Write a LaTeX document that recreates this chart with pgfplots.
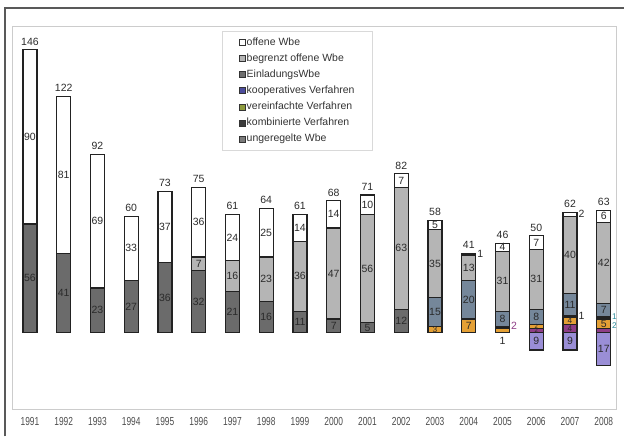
\documentclass[border=0pt]{standalone}
\usepackage{fontspec}
\setmainfont{Liberation Sans}
\usepackage{pgfplots}
\usepackage{pgfplotstable}
\pgfplotsset{compat=1.18}

\definecolor{cW}{HTML}{FFFFFF}
\definecolor{cB}{HTML}{B5B5B5}
\definecolor{cE}{HTML}{6B6B6B}
\definecolor{cS}{HTML}{75879A}
\definecolor{cK}{HTML}{1E1E1E}
\definecolor{cO}{HTML}{E4A035}
\definecolor{cP}{HTML}{8E3D86}
\definecolor{cU}{HTML}{9A8ED6}
\definecolor{barline}{HTML}{222222}
\definecolor{labtext}{HTML}{2A2A2A}
\definecolor{teallab}{HTML}{2A8A9A}
\definecolor{lgE}{HTML}{6E6E6E}
\definecolor{lgKoop}{HTML}{4C4C9C}
\definecolor{lgVer}{HTML}{8D9A3C}
\definecolor{lgKomb}{HTML}{3C3C3C}
\definecolor{lgU}{HTML}{7A7A7A}

\newcommand\lab{\fontsize{6.3}{7}\selectfont}
\newcommand\slab{\fontsize{5}{6}\selectfont}
\newcommand\tlab{\fontsize{3.6}{4}\selectfont}

% stacked positive segments, bottom to top
\pgfplotstableread{
x  P O K E  S  B  W
0  0 0 0 56 0  0  90
1  0 0 0 41 0  0  81
2  0 0 0 23 0  0  69
3  0 0 0 27 0  0  33
4  0 0 0 36 0  0  37
5  0 0 0 32 0  7  36
6  0 0 0 21 0  16 24
7  0 0 0 16 0  23 25
8  0 0 0 11 0  36 14
9  0 0 0 7  0  47 14
10 0 0 0 5  0  56 10
11 0 0 0 12 0  63 7
12 0 3 0 0  15 35 5
13 0 7 0 0  20 13 1
14 0 2 1 0  8  31 4
15 2 2 0 0  8  31 7
16 4 4 1 0  11 40 2
17 2 5 1 0  7  42 6
}\bars

% ungeregelte Wbe below the baseline
\pgfplotstableread{
x  U
15 -9
16 -9
17 -17
}\negbars

\pgfplotstableread{
x  y     lab
0  101   90
0  28    56
1  81.5  81
1  20.5  41
2  57.5  69
2  11.5  23
3  43.5  33
3  13.5  27
4  54.5  37
4  18    36
5  57    36
5  35.5  7
5  16    32
6  49    24
6  29    16
6  10.5  21
7  51.5  25
7  27.5  23
7  8     16
8  54    14
8  29    36
8  5.5   11
9  61    14
9  30.5  47
9  3.5   7
10 66    10
10 33    56
10 2.5   5
11 78.5  7
11 43.5  63
11 6     12
12 55.5  5
12 35.5  35
12 10.5  15
13 33.5  13
13 17    20
13 3.5   7
14 44    4
14 26.5  31
14 7     8
15 46.5  7
15 27.5  31
15 8     8
15 -4.5  9
16 40    40
16 14.5  11
16 -4.5  9
17 60    6
17 36    42
17 11.5  7
17 4.5   5
17 -8.5  17
}\inlab

\pgfplotstableread{
x  y    lab
12 1.5  3
16 2    4
16 6    4
}\smalllab

\pgfplotstableread{
x  y    lab
15 0.9  2
15 3.1  2
}\tinylab

\pgfplotstableread{
x  y   lab
0  146 146
1  122 122
2  92  92
3  60  60
4  73  73
5  75  75
6  61  61
7  64  64
8  61  61
9  68  68
10 71  71
11 82  82
12 58  58
13 41  41
14 46  46
15 50  50
16 62  62
17 63  63
}\totals

\pgfplotstableread{
x      y    lab
13.22  40.5 1
16.22  61.5 2
16.22  8.8  1
}\outlab

\pgfplotstableread{
x      y    lab
14.22  3.5  2
}\outlabp

\pgfplotstableread{
x      y    lab
17.22  8.3  1
17.22  3.6  2
}\outlabt

\pgfplotstableread{
x   y    lab
14  -4.2 1
}\belowlab

\begin{document}
\begin{tikzpicture}
\pgfplotsset{
  common/.style={
    scale only axis, width=362.4pt, height=229.8pt,
    xmin=-0.503, xmax=17.37, ymin=-39.7, ymax=157.7,
  },
  seg/.style={draw=barline, line width=0.7pt},
  lbl/.style={forget plot, only marks, mark=none, point meta=explicit symbolic, nodes near coords},
}
\begin{axis}[
  common,
  name=main,
  ybar stacked, bar width=8.4pt,
  axis line style={draw=black!20, line width=0.6pt},
  ytick=\empty,
  xtick={0,1,2,3,4,5,6,7,8,9,10,11,12,13,14,15,16,17},
  xticklabels={1991,1992,1993,1994,1995,1996,1997,1998,1999,2000,2001,2002,2003,2004,2005,2006,2007,2008},
  xtick style={draw=none},
  xticklabel style={font=\fontsize{7}{8}\selectfont, xscale=0.72, text=black!70, yshift=-1pt},
  clip=false,
]
\addplot[seg, fill=cP] table[x=x,y=P]{\bars};
\addplot[seg, fill=cO] table[x=x,y=O]{\bars};
\addplot[seg, fill=cK] table[x=x,y=K]{\bars};
\addplot[seg, fill=cE] table[x=x,y=E]{\bars};
\addplot[seg, fill=cS] table[x=x,y=S]{\bars};
\addplot[seg, fill=cB] table[x=x,y=B]{\bars};
\addplot[seg, fill=cW] table[x=x,y=W]{\bars};
\end{axis}

\begin{axis}[
  common,
  at={(main.south west)}, anchor=south west,
  hide axis,
  clip=false,
  legend cell align=left,
  legend image code/.code={\draw[#1, draw=black!80, line width=0.4pt] (0pt,-1.8pt) rectangle (3.6pt,1.8pt);},
  legend style={at={(0.346,0.99)}, anchor=north west, draw=black!15,
    font=\fontsize{6.3}{7}\selectfont, text=black!80,
    inner xsep=10pt, inner ysep=3pt, row sep=2pt, nodes={inner sep=0.8pt}},
]
\addlegendimage{fill=cW}\addlegendentry{offene Wbe}
\addlegendimage{fill=cB}\addlegendentry{begrenzt offene Wbe}
\addlegendimage{fill=lgE}\addlegendentry{EinladungsWbe}
\addlegendimage{fill=lgKoop}\addlegendentry{kooperatives Verfahren}
\addlegendimage{fill=lgVer}\addlegendentry{vereinfachte Verfahren}
\addlegendimage{fill=lgKomb}\addlegendentry{kombinierte Verfahren}
\addlegendimage{fill=lgU}\addlegendentry{ungeregelte Wbe}

\addplot[forget plot, ybar, bar shift=0pt, bar width=8.4pt, seg, fill=cU]
  table[x=x,y=U]{\negbars};

\addplot[lbl, nodes near coords style={anchor=center, font=\lab, text=labtext, inner sep=0pt}]
  table[x=x,y=y,meta=lab]{\inlab};
\addplot[lbl, nodes near coords style={anchor=center, font=\slab, text=labtext, inner sep=0pt}]
  table[x=x,y=y,meta=lab]{\smalllab};
\addplot[lbl, nodes near coords style={anchor=center, font=\tlab, text=labtext, inner sep=0pt}]
  table[x=x,y=y,meta=lab]{\tinylab};
\addplot[lbl, nodes near coords style={anchor=south, font=\lab, text=labtext, inner sep=0pt, yshift=2.5pt}]
  table[x=x,y=y,meta=lab]{\totals};
\addplot[lbl, nodes near coords style={anchor=west, font=\lab, text=labtext, inner sep=0.5pt}]
  table[x=x,y=y,meta=lab]{\outlab};
\addplot[lbl, nodes near coords style={anchor=west, font=\lab, text=cP, inner sep=0.5pt}]
  table[x=x,y=y,meta=lab]{\outlabp};
\addplot[lbl, nodes near coords style={anchor=west, font=\slab, text=teallab, inner sep=0.3pt}]
  table[x=x,y=y,meta=lab]{\outlabt};
\addplot[lbl, nodes near coords style={anchor=center, font=\lab, text=labtext, inner sep=0pt}]
  table[x=x,y=y,meta=lab]{\belowlab};
\end{axis}

% outer frame of the scanned page and picture extent
\draw[black!65, line width=0.9pt]
  ([xshift=-4.8pt,yshift=-16.2pt]main.south west) --
  ([xshift=-4.8pt,yshift=241.2pt]main.south west) --
  ([xshift=367.2pt,yshift=241.2pt]main.south west);
\path ([xshift=-7.8pt,yshift=-16.2pt]main.south west) rectangle ([xshift=367.2pt,yshift=246pt]main.south west);
\end{tikzpicture}
\end{document}
